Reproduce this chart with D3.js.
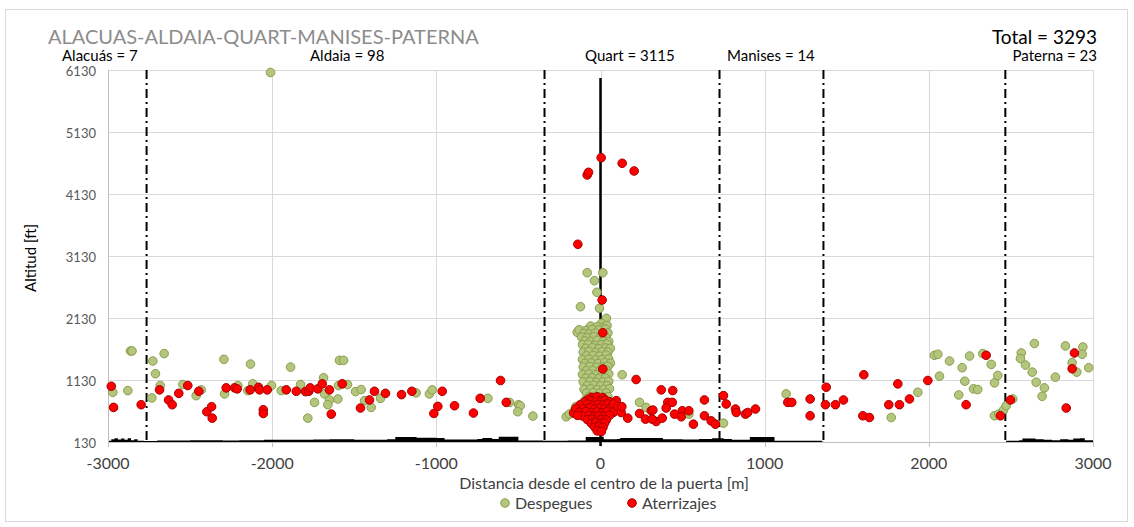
<!DOCTYPE html>
<meta charset="utf-8">
<title>Alacuas-Aldaia-Quart-Manises-Paterna</title>
<style>
body { margin: 0; background: #fff; }
svg { font-family: Lato, "Open Sans", sans-serif; }
.grid line { stroke: #d9d9d9; stroke-width: 1; }
.tick-y { font-size: 13px; fill: #595959; }
.tick-x { font-size: 16px; fill: #404040; }
.lbl { font-size: 15px; fill: #000; }
.eje { font-size: 16px; fill: #404040; }
</style>
<svg id="chart" width="1134" height="527"></svg>
<script src="https://cdn.jsdelivr.net/npm/d3@7"></script>
<script>

// sectores (municipio, vuelos) y limites entre sectores [m]
var municipios = ["Alacuás", "Aldaia", "Quart", "Manises", "Paterna"];
var vuelos = [7, 98, 3115, 14, 23];
var total = 3293;
var limites = [-2765, -341, 725, 1358, 2466];

var xTicks = [-3000, -2000, -1000, 0, 1000, 2000, 3000];
var yTicks = [130, 1130, 2130, 3130, 4130, 5130, 6130];

// despegues [distancia m, altitud ft]
var despeguesOeste = [
  [-2863,1598],[-2854,1598],[-2727,1436],[-2658,1556],[-2711,1231],[-2682,1041],
  [-2733,841],[-2971,932],[-2879,959],[-2544,1057],[-2463,878],[-2432,971],
  [-2294,1463],[-2290,906],[-2132,1387],[-2209,1041],[-2148,959],[-2118,1068],
  [-2010,6090],[-2004,1041],[-1945,959],[-1888,1338],[-1827,1057],[-1783,515],
  [-1742,769],[-1687,1166],[-1681,906],[-1651,808],[-1661,732],[-1600,824],
  [-1590,1447],[-1565,1447],[-1596,1041],[-1541,1057],[-1492,943],[-1458,976],
  [-1437,797],[-1397,688],[-1340,834],[-1123,922],[-1042,906],[-1025,971],
  [-686,834],[-554,769],[-499,732],[-489,715],[-504,618],[-412,548],
  [-209,537],[-118,688],[-160,640],[-190,580]
];
var despeguesQuart = [
  [-81,2861],[14,2861],[-37,2732],[-22,2545],[-122,2312],[-6,2287],[36,2125],[6,2044],[-142,1899],
  [-60,2000],[-20,1990],[20,1985],[40,2010],
  [-130,1940],[-90,1930],[-50,1945],[-10,1935],[30,1950],
  [-100,1880],[-70,1870],[-30,1885],[10,1875],[45,1890],
  [-115,1820],[-80,1815],[-40,1830],[0,1820],[35,1810],
  [-95,1760],[-60,1755],[-20,1770],[20,1760],[50,1750],
  [-110,1700],[-75,1705],[-35,1690],[5,1700],[40,1710],
  [-90,1640],[-50,1650],[-10,1635],[30,1645],[60,1640],
  [-105,1580],[-70,1590],[-30,1575],[10,1585],[45,1580],
  [-85,1520],[-45,1525],[-5,1515],[35,1530],
  [-110,1460],[-70,1465],[-30,1455],[10,1460],[50,1470],
  [-95,1400],[-55,1405],[-15,1395],[25,1410],[60,1400],
  [-105,1340],[-65,1345],[-25,1335],[15,1340],[45,1350],
  [-85,1280],[-45,1285],[-5,1275],[35,1290],
  [-110,1220],[-70,1225],[-30,1215],[10,1220],[50,1230],
  [-90,1160],[-50,1165],[-10,1155],[30,1160],
  [-105,1100],[-65,1105],[-25,1095],[15,1100],[50,1110],
  [-80,1040],[-40,1045],[0,1035],[40,1040],
  [-100,980],[-60,985],[-20,975],[20,980],[55,990],
  [-85,920],[-45,925],[-5,915],[35,920],
  [-70,860],[-30,865],[10,855],[45,860],
  [-95,800],[-50,805],[-10,795],[30,800],
  [-120,740],[-60,745],[20,735],[132,1215],[238,769],
  [-150,700],[-135,640],[70,760],[90,700]
];
var despeguesEste = [
  [278,688],[538,580],[749,434],[1131,906],[1771,525],[1933,932],[2034,1528],
  [2055,1545],[2065,1192],[2126,1436],[2182,889],[2203,1328],[2219,1110],
  [2248,1517],[2272,987],[2298,976],[2329,1556],[2380,1382],[2400,1084],
  [2420,1203],[2400,553],[2426,580],[2455,645],[2471,715],[2511,824],
  [2563,1566],[2558,1475],[2589,1371],[2630,1257],[2654,1094],[2690,867],
  [2704,1003],[2771,1176],[2832,1680],[2938,1663],[2934,1545],[2873,1410],
  [2901,1257],[2974,1328],[2643,1719]
];

// aterrizajes [distancia m, altitud ft]
var aterrizajesOeste = [
  [-2980,1029],[-2966,688],[-2798,732],[-2686,971],[-2631,808],[-2609,732],
  [-2569,915],[-2514,1041],[-2447,948],[-2398,618],[-2369,699],[-2365,515],
  [-2280,1003],[-2229,1003],[-2213,987],[-2134,971],[-2083,1013],[-2077,971],
  [-2030,971],[-2054,650],[-2054,590],[-1914,971],[-1853,948],[-1797,943],
  [-1777,948],[-1768,1003],[-1722,987],[-1695,1068],[-1651,971],[-1640,580],
  [-1573,1068],[-1462,678],[-1407,808],[-1377,948],[-1310,915],[-1212,894],
  [-1149,948],[-1015,590],[-991,704],[-964,948],[-889,715],[-774,597],
  [-733,834],[-609,1122],[-574,769],[-164,597]
];
var aterrizajesQuart = [
  [4,4716],[132,4625],[205,4501],[-81,4437],[-73,4480],[-138,3319],
  [10,2420],[14,1893],[14,1307],
  [-55,850],[-20,860],[15,845],[-75,820],
  [-95,780],[-60,795],[-30,775],[0,790],[30,805],[55,780],
  [-125,725],[-80,740],[-45,720],[-15,735],[15,725],[45,740],[75,720],
  [-150,670],[-105,665],[-65,680],[-35,660],[-5,675],[25,660],[60,675],
  [-130,610],[-90,620],[-55,600],[-20,615],[10,600],[40,620],[80,610],
  [-110,550],[-70,560],[-40,540],[-10,555],[20,545],[55,560],
  [-80,490],[-50,500],[-20,480],[10,495],[35,485],
  [-55,430],[-30,440],[0,420],[25,435],
  [-35,370],[-10,380],[15,365],
  [-20,310],[5,300],
  [96,797],[79,743],[105,699],[126,606],[166,515],[-140,560],[130,700]
];
var aterrizajesEste = [
  [217,1138],[370,971],[440,959],[410,769],[437,769],[400,678],[238,590],
  [274,499],[309,634],[339,460],[376,515],[451,580],[498,634],[538,634],
  [492,537],[566,418],[319,645],[315,499],[633,808],[633,553],[674,471],
  [700,418],[749,878],[766,743],[822,662],[827,606],[883,580],[897,606],
  [944,662],[1141,769],[1165,769],[1277,824],[1277,553],[1375,1013],
  [1370,732],[1431,732],[1480,808],[1598,553],[1638,525],[1604,1215],
  [1756,732],[1821,732],[1811,1068],[1882,824],[1994,1122],[2227,732],
  [2349,1528],[2497,808],[2436,553],[2837,678],[2887,1566],[2873,1312]
];

// perfil del terreno [distancia m, altitud ft]
var terreno = [
  [-3000,150],[-2980,175],[-2960,190],[-2940,170],[-2920,185],[-2900,165],[-2880,190],
  [-2860,160],[-2840,175],[-2820,150],[-2780,145],[-2700,155],[-2500,160],[-2300,155],
  [-2200,160],[-2050,165],[-1900,165],[-1750,170],[-1650,175],[-1500,165],[-1300,175],
  [-1250,210],[-1140,210],[-1120,200],[-1000,195],[-950,170],[-750,180],[-720,195],
  [-660,180],[-620,215],[-520,215],[-500,155],[-350,150],[-200,155],[-100,155],
  [-90,210],[0,215],[20,175],[100,180],[120,195],[360,195],[380,175],[500,170],
  [600,180],[680,190],[750,180],[800,165],[900,165],[910,210],[1050,210],[1060,150],
  [1300,150],[1350,135],[1360,130],[2460,130],[2470,150],[2550,160],[2570,185],
  [2620,185],[2650,175],[2700,165],[2750,160],[2800,175],[2850,165],[2880,185],
  [2920,190],[2950,160],[3000,150]
];

var svg = d3.select("#chart");

var x = d3.scaleLinear().domain([-3000, 3000]).range([108, 1093]);
var y = d3.scaleLinear().domain([130, 6130]).range([442, 70]);

// marco exterior
svg.append("rect")
    .attr("x", 5.5).attr("y", 9.5)
    .attr("width", 1122).attr("height", 512)
    .attr("fill", "none").attr("stroke", "#d9d9d9");

// rejilla
var grid = svg.append("g").attr("class", "grid");
grid.selectAll(".gy").data(yTicks.slice(1)).enter().append("line")
    .attr("x1", x(-3000)).attr("x2", x(3000))
    .attr("y1", function(d) { return Math.round(y(d)) + 0.5; })
    .attr("y2", function(d) { return Math.round(y(d)) + 0.5; });
grid.selectAll(".gx").data(xTicks.slice(1)).enter().append("line")
    .attr("y1", y(6130)).attr("y2", y(130))
    .attr("x1", function(d) { return Math.round(x(d)) + 0.5; })
    .attr("x2", function(d) { return Math.round(x(d)) + 0.5; });

// terreno
svg.append("path")
    .datum(terreno)
    .attr("fill", "#000")
    .attr("d", d3.area()
      .curve(d3.curveStepAfter)
      .x(function(d) { return x(d[0]); })
      .y0(y(130) + 1)
      .y1(function(d) { return y(d[1]); }));

// ejes
svg.append("line")
    .attr("x1", x(-3000) + 0.5).attr("x2", x(-3000) + 0.5)
    .attr("y1", y(6130)).attr("y2", y(130))
    .attr("stroke", "#bfbfbf");
svg.append("line")
    .attr("x1", x(-3000)).attr("x2", x(3000))
    .attr("y1", y(130) + 0.5).attr("y2", y(130) + 0.5)
    .attr("stroke", "#bfbfbf");
svg.selectAll(".xt").data(xTicks).enter().append("line")
    .attr("x1", function(d) { return Math.round(x(d)) + 0.5; })
    .attr("x2", function(d) { return Math.round(x(d)) + 0.5; })
    .attr("y1", y(130)).attr("y2", y(130) + 5)
    .attr("stroke", "#bfbfbf");

svg.selectAll(".ylab").data(yTicks).enter().append("text")
    .attr("class", "tick-y")
    .attr("x", 96).attr("y", function(d) { return y(d) + 5.5; })
    .attr("text-anchor", "end")
    .text(function(d) { return d; });
svg.selectAll(".xlab").data(xTicks).enter().append("text")
    .attr("class", "tick-x")
    .attr("x", function(d) { return x(d); }).attr("y", 469)
    .attr("text-anchor", "middle")
    .text(function(d) { return d; });

// limites entre municipios
svg.selectAll(".lim").data(limites).enter().append("line")
    .attr("x1", function(d) { return x(d); }).attr("x2", function(d) { return x(d); })
    .attr("y1", y(6130)).attr("y2", y(130))
    .attr("stroke", "#000").attr("stroke-width", 2)
    .attr("stroke-dasharray", "9,4,2,4");

// eje de la puerta
svg.append("line")
    .attr("x1", x(0)).attr("x2", x(0))
    .attr("y1", y(6000)).attr("y2", y(130) + 4)
    .attr("stroke", "#000").attr("stroke-width", 2.5);

// puntos
function puntos(data, fill, stroke) {
  svg.append("g").selectAll("circle").data(data).enter().append("circle")
      .attr("cx", function(d) { return x(d[0]); })
      .attr("cy", function(d) { return y(d[1]); })
      .attr("r", 4.3)
      .attr("fill", fill).attr("stroke", stroke).attr("stroke-width", 1);
}
var verde = "#b3c67e", verdeBorde = "#8b9d4c";
var rojo = "#ff0000", rojoBorde = "#a50000";
puntos(despeguesOeste.concat(despeguesQuart, despeguesEste), verde, verdeBorde);
puntos(aterrizajesOeste.concat(aterrizajesQuart, aterrizajesEste), rojo, rojoBorde);

// titulos
svg.append("text")
    .attr("x", 48).attr("y", 44)
    .attr("font-size", 20).attr("fill", "#8c8c8c")
    .text("ALACUAS-ALDAIA-QUART-MANISES-PATERNA");
svg.append("text")
    .attr("x", 1097).attr("y", 44).attr("text-anchor", "end")
    .attr("font-size", 19).attr("fill", "#000")
    .text("Total = " + total);

// etiquetas de municipio: posicion [px, ancla]
var etiquetaPos = [[62, "start"], [310, "start"], [585, "start"], [727, "start"], [1097, "end"]];
svg.selectAll(".mun").data(municipios).enter().append("text")
    .attr("class", "lbl")
    .attr("x", function(d, i) { return etiquetaPos[i][0]; })
    .attr("y", 61)
    .attr("text-anchor", function(d, i) { return etiquetaPos[i][1]; })
    .text(function(d, i) { return d + " = " + vuelos[i]; });

svg.append("text")
    .attr("class", "lbl")
    .attr("transform", "translate(36," + 258 + ") rotate(-90)")
    .attr("text-anchor", "middle")
    .text("Altitud [ft]");
svg.append("text")
    .attr("class", "eje")
    .attr("x", 604).attr("y", 489)
    .attr("text-anchor", "middle")
    .text("Distancia desde el centro de la puerta [m]");

// leyenda
var leyenda = [["Despegues", verde, verdeBorde, 505], ["Aterrizajes", rojo, rojoBorde, 632]];
var lg = svg.selectAll(".ley").data(leyenda).enter().append("g");
lg.append("circle")
    .attr("cx", function(d) { return d[3]; }).attr("cy", 503)
    .attr("r", 4.3)
    .attr("fill", function(d) { return d[1]; }).attr("stroke", function(d) { return d[2]; });
lg.append("text")
    .attr("class", "eje")
    .attr("font-size", 15)
    .attr("x", function(d) { return d[3] + 10; }).attr("y", 508.5)
    .text(function(d) { return d[0]; });

</script>
